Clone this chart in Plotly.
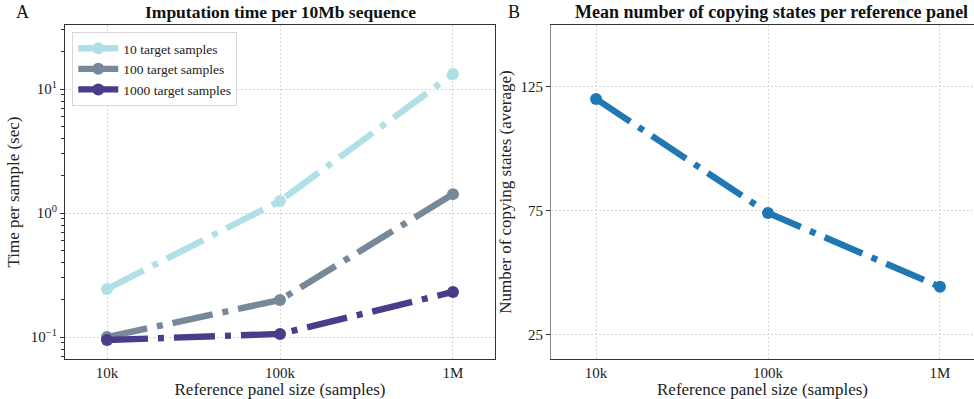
import plotly.graph_objects as go
import numpy as np

panel_sizes = [1e4, 1e5, 1e6]
x_tick_labels = ["10k", "100k", "1M"]
series_names = ["10 target samples", "100 target samples", "1000 target samples"]
time_10 = [0.244, 1.25, 13.2]
time_100 = [0.100, 0.199, 1.42]
time_1000 = [0.0946, 0.106, 0.231]
copying_states = [120.2, 74.2, 44.4]
colors = ["#B0E0E6", "#778899", "#483D8B"]

FONT = "Liberation Serif"
DASH = "41px,10px,6px,10px"

fig = go.Figure()
for name, vals, c in zip(series_names, [time_10, time_100, time_1000], colors):
    fig.add_trace(go.Scatter(
        x=panel_sizes, y=vals, name=name, mode="lines+markers",
        line=dict(color=c, width=6.4, dash=DASH),
        marker=dict(color=c, size=12),
        xaxis="x", yaxis="y"))

fig.add_trace(go.Scatter(
    x=panel_sizes, y=copying_states, mode="lines+markers", showlegend=False,
    line=dict(color="#1f77b4", width=6.4, dash=DASH),
    marker=dict(color="#1f77b4", size=12),
    xaxis="x2", yaxis="y2"))

W, H = 974, 399
ml, mr, mt, mb = 65, 0, 25, 40
pw = W - ml - mr
d1 = [0, (495 - ml) / pw]
d2 = [(551 - ml) / pw, 1]

axis_common = dict(showgrid=True, gridcolor="#d4d4d4", griddash="2px,2px", gridwidth=0.8,
                   showline=True, linecolor="#333333", linewidth=1.2, zeroline=False,
                   tickfont=dict(family=FONT, size=15, color="#222"),
                   title_font=dict(family=FONT, size=17, color="#222"))

minor_vals = [v * m for v in [0.01, 0.1, 1, 10] for m in range(2, 10)]

fig.update_layout(
    width=W, height=H, margin=dict(l=ml, r=mr, t=mt, b=mb),
    paper_bgcolor="white", plot_bgcolor="white",
    font=dict(family=FONT, color="#222"),
    showlegend=True,
    legend=dict(x=0.008, y=0.979, xanchor="left", yanchor="top",
                bgcolor="rgba(255,255,255,0.9)", bordercolor="#d8d8d8", borderwidth=1,
                itemwidth=40,
                font=dict(family=FONT, size=13.5, color="#222"), tracegroupgap=0),
    xaxis=dict(type="log", domain=d1, range=[3.757, 6.243], tickvals=panel_sizes,
               ticktext=x_tick_labels, ticks="", mirror=True,
               title=dict(text="Reference panel size (samples)", standoff=3), anchor="y",
               **axis_common),
    yaxis=dict(type="log", domain=[0, 1], range=[-1.177, 1.516], tickvals=[0.1, 1, 10],
               ticktext=["10<sup>−1</sup>", "10<sup>0</sup>", "10<sup>1</sup>"],
               ticks="outside", ticklen=4, tickcolor="#333",
               minor=dict(tickvals=minor_vals, ticks="outside", ticklen=2.5, tickcolor="#333", showgrid=False),
               mirror=True, anchor="x",
               title=dict(text="Time per sample (sec)", standoff=6),
               **axis_common),
    xaxis2=dict(type="log", domain=d2, range=[3.738, 6.198], tickvals=panel_sizes,
                ticktext=x_tick_labels, ticks="", mirror=True, anchor="y2",
                title=dict(text="Reference panel size (samples)", standoff=3),
                **axis_common),
    yaxis2=dict(domain=[0, 1], range=[15.3, 150], tickvals=[25, 75, 125],
                ticks="outside", ticklen=4, tickcolor="#333", anchor="x2",
                title=dict(text="Number of copying states (average)", standoff=4),
                **axis_common),
)
fig.update_layout(yaxis2_linecolor="#888888")

fig.add_annotation(text="<b>Imputation time per 10Mb sequence</b>", xref="x domain", yref="paper",
                   x=0.5, y=1, yshift=1, xanchor="center", yanchor="bottom", showarrow=False,
                   font=dict(family=FONT, size=17.5, color="#111"))
fig.add_annotation(text="<b>Mean number of copying states per reference panel</b>", xref="paper",
                   yref="paper", x=(771 - ml) / pw, y=1, yshift=1, xanchor="center", yanchor="bottom",
                   showarrow=False, font=dict(family=FONT, size=18, color="#111"))
fig.add_annotation(text="A", xref="paper", yref="paper", x=(22 - ml) / pw, y=1, yshift=1,
                   xanchor="center", yanchor="bottom", showarrow=False,
                   font=dict(family=FONT, size=18, color="#111"))
fig.add_annotation(text="B", xref="paper", yref="paper", x=(514 - ml) / pw, y=1, yshift=1,
                   xanchor="center", yanchor="bottom", showarrow=False,
                   font=dict(family=FONT, size=18, color="#111"))

fig.write_html("out.html")
